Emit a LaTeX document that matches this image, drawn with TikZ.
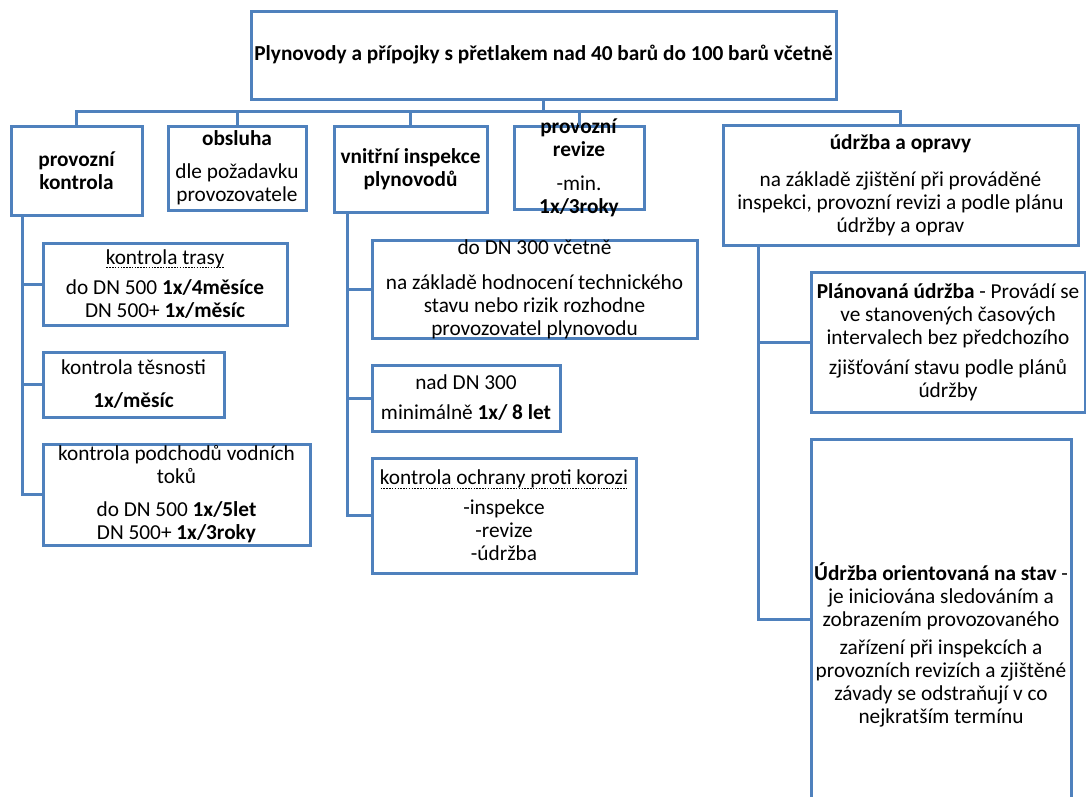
\documentclass[tikz,border=0pt]{standalone}
\usepackage{fontspec}
\setmainfont{Carlito}
\usetikzlibrary{calc}
\definecolor{frame}{RGB}{79,129,189}

% dashed underline beneath a piece of text
\newsavebox\dashulbox
\newcommand\dashedunder[1]{%
  \sbox\dashulbox{#1}%
  \rlap{\raisebox{-3.8pt}{\hbox to \wd\dashulbox{\xleaders\hbox to 2.8pt{\hss\rule{1.5pt}{0.8pt}\hss}\hfill}}}%
  \usebox\dashulbox}

\newcommand\boxfont{\fontsize{21.3}{23}\selectfont}

\tikzset{
  box/.style={draw=frame, line width=3pt, rectangle, inner sep=0pt, fill=white},
  txt/.style={align=center, inner sep=0pt, font=\boxfont},
  btxt/.style={txt, font=\boxfont\bfseries},
  conn/.style={draw=frame, line width=3pt},
}

\begin{document}
\begin{tikzpicture}[x=1pt,y=-1pt]
  \useasboundingbox (0,0) rectangle (1086,796);

  % frames
  \node[box, minimum width=585pt, minimum height=88pt]  (title) at (543.5,55) {};
  \node[box, minimum width=131pt, minimum height=89pt]  (pk)    at (76.5,170.5) {};
  \node[box, minimum width=138pt, minimum height=84pt]  (obs)   at (237,168) {};
  \node[box, minimum width=153pt, minimum height=86pt]  (vni)   at (410.5,169) {};
  \node[box, minimum width=130pt, minimum height=83pt]  (rev)   at (579,167.5) {};
  \node[box, minimum width=355pt, minimum height=120pt] (udr)   at (900.5,185) {};
  \node[box, minimum width=244pt, minimum height=82pt]  (trasa) at (165,284) {};
  \node[box, minimum width=181pt, minimum height=65pt]  (tes)   at (133.5,384.5) {};
  \node[box, minimum width=267pt, minimum height=101pt] (pod)   at (176.5,494.5) {};
  \node[box, minimum width=325pt, minimum height=98pt]  (dn3)   at (534.5,289) {};
  \node[box, minimum width=188pt, minimum height=66pt]  (nad)   at (466,398) {};
  \node[box, minimum width=264pt, minimum height=115pt] (och)   at (504,515.5) {};
  \node[box, minimum width=274pt, minimum height=140pt] (plan)  at (948,342) {};
  \node[box, minimum width=260pt, minimum height=361pt] (uor)   at (941,619.5) {};

  % texts
  \node[btxt] (t-title) at (title.center)
    {Plynovody a přípojky s přetlakem nad 40 barů do 100 barů včetně};
  \node[btxt] (t-pk) at (pk.center)
    {provozní\\kontrola};
  \node[txt] (t-obs) at (obs.center)
    {\textbf{obsluha}\\[10pt]dle požadavku\\provozovatele};
  \node[btxt] (t-vni) at (vni.center)
    {vnitřní inspekce\\plynovodů};
  \node[txt] (t-rev) at (rev.center)
    {\textbf{provozní}\\\textbf{revize}\\[11pt]-min.\\\textbf{1x/3roky}};
  \node[txt] (t-udr) at (udr.center)
    {\textbf{údržba a opravy}\\[14pt]na základě zjištění při prováděné\\inspekci, provozní revizi a podle plánu\\údržby a oprav};
  \node[txt] (t-trasa) at (trasa.center)
    {\dashedunder{kontrola trasy}\\[7pt]do DN 500 \textbf{1x/4měsíce}\\DN 500+ \textbf{1x/měsíc}};
  \node[txt] (t-tes) at (tes.center)
    {kontrola těsnosti\\[10pt]\textbf{1x/měsíc}};
  \node[txt] (t-pod) at (pod.center)
    {kontrola podchodů vodních\\toků\\[10pt]do DN 500 \textbf{1x/5let}\\DN 500+ \textbf{1x/3roky}};
  \node[txt] (t-dn3) at (dn3.center)
    {do DN 300 včetně\\[12pt]na základě hodnocení technického\\stavu nebo rizik rozhodne\\provozovatel plynovodu};
  \node[txt] (t-nad) at (nad.center)
    {nad DN 300\\[7pt]minimálně \textbf{1x/ 8 let}};
  \node[txt] (t-och) at (och.center)
    {\dashedunder{kontrola ochrany proti korozi}\\[7pt]-inspekce\\-revize\\-údržba};
  \node[txt] (t-plan) at (plan.center)
    {\textbf{Plánovaná údržba} - Provádí se\\ve stanovených časových\\intervalech bez předchozího\\[7pt]zjišťování stavu podle plánů\\údržby};
  \node[txt] (t-uor) at ($(uor.center)+(0,25)$)
    {\textbf{Údržba orientovaná na stav} -\\je iniciována sledováním a\\zobrazením provozovaného\\[5pt]zařízení při inspekcích a\\provozních revizích a zjištěné\\závady se odstraňují v co\\nejkratším termínu};

  % top level connectors
  \coordinate (bus) at (544,111);
  \foreach \c in {pk,obs,vni,rev,udr}
    \draw[conn] (title.south) |- (\c.north |- bus) -- (\c.north);

  % second level connectors
  \coordinate (pkstem)  at ($(pk.south west)+(13,0)$);
  \coordinate (vnistem) at ($(vni.south west)+(15,0)$);
  \coordinate (udrstem) at ($(udr.south west)+(37,0)$);
  \foreach \c in {trasa,tes,pod}
    \draw[conn] (pkstem) |- (\c.west);
  \foreach \c in {dn3,nad,och}
    \draw[conn] (vnistem) |- (\c.west);
  \foreach \c in {plan,uor}
    \draw[conn] (udrstem) |- (\c.west);
\end{tikzpicture}
\end{document}
